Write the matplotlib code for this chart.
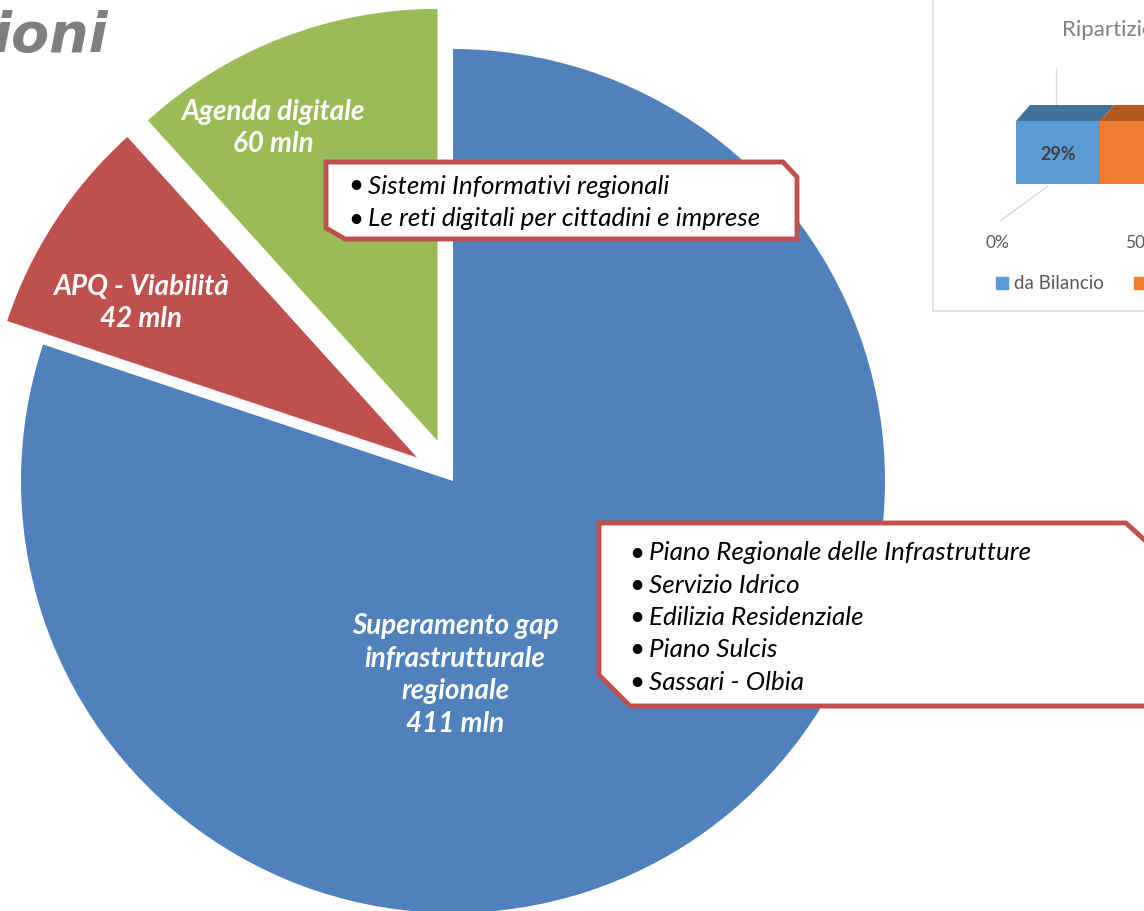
"""Riparto risorse infrastrutture: torta esplosa con riquadri di dettaglio."""

import matplotlib.pyplot as plt
from matplotlib.patches import Polygon, Rectangle

W, H = 1144, 912

# dati della torta (milioni di euro)
SLICE_NAMES = ["Superamento gap\ninfrastrutturale\nregionale", "APQ - Viabilità", "Agenda digitale"]
SLICE_VALUES = [411, 42, 60]
SLICE_COLORS = ["#4F81BD", "#C0504D", "#9BBB59"]
SLICE_EXPLODE = [0, 43, 43]

# elenchi puntati dei riquadri
AGENDA_ITEMS = ["Sistemi Informativi regionali", "Le reti digitali per cittadini e imprese"]
GAP_ITEMS = [
    "Piano Regionale delle Infrastrutture",
    "Servizio Idrico",
    "Edilizia Residenziale",
    "Piano Sulcis",
    "Sassari - Olbia",
]

# grafico inserito in alto a destra
INSET_SERIES = ["da Bilancio", "altre fonti"]
INSET_SHARES = [0.29, 0.71]
INSET_COLORS = ["#5B9BD5", "#ED7D31"]
INSET_TOPS = ["#41719C", "#B4581F"]
INSET_TICKS = [0.0, 0.5]
INSET_TICK_LABELS = ["0%", "50%"]

FONT = "Lato"


def py(y):
    """Image row (from the top) -> axes y (from the bottom)."""
    return H - y


def callout(ax, pts):
    poly = Polygon([(x, py(y)) for x, y in pts], closed=True, facecolor="white",
                   edgecolor="#C0504D", linewidth=3.5, zorder=4)
    ax.add_patch(poly)


def bullets(ax, items, x, y0, step, size):
    for i, item in enumerate(items):
        y = py(y0 + i * step)
        ax.text(x - 4, y, "\u2022", fontsize=size, family=FONT, va="center", ha="left",
                color="black", zorder=5)
        ax.text(x + 16, y, item, fontsize=size, family=FONT, style="italic",
                va="center", ha="left", color="black", zorder=5)


fig = plt.figure(figsize=(W / 100, H / 100), dpi=100)
ax = fig.add_axes([0, 0, 1, 1])
ax.pie(SLICE_VALUES, colors=SLICE_COLORS, explode=SLICE_EXPLODE, startangle=90,
       counterclock=False, center=(453, py(482)), radius=432,
       wedgeprops={"linewidth": 0})
ax.set_xlim(0, W)
ax.set_ylim(0, H)
ax.set_aspect("equal")
ax.axis("off")

# etichette delle fette
label_kw = dict(family=FONT, fontsize=20, fontweight="bold", style="italic",
                color="white", ha="center", va="center", linespacing=1.32, zorder=3)
ax.text(455, py(675), f"{SLICE_NAMES[0]}\n{SLICE_VALUES[0]} mln", **label_kw)
ax.text(141, py(303), f"{SLICE_NAMES[1]}\n{SLICE_VALUES[1]} mln", **label_kw)
ax.text(273, py(128), f"{SLICE_NAMES[2]}\n{SLICE_VALUES[2]} mln", **label_kw)

# riquadri
callout(ax, [(326, 163), (783, 163), (797, 178), (797, 240), (345, 240), (326, 229)])
bullets(ax, AGENDA_ITEMS, 352, 186, 33, 18.7)
callout(ax, [(599, 524), (1126, 524), (1150, 546), (1150, 707), (630, 707), (599, 676)])
bullets(ax, GAP_ITEMS, 633, 553, 32.3, 18.7)

# titolo tagliato
ax.text(108, py(52), "ioni", fontsize=40, fontweight="bold", style="italic",
        color="#7F7F7F", ha="right", va="baseline", family="DejaVu Sans")

# cornice del grafico inserito
ax.add_patch(Rectangle((933, py(312)), 260, 330, facecolor="white",
                       edgecolor="#D9D9D9", linewidth=1.2, zorder=2))

# grafico inserito: x in quota, y in righe immagine
left_px, right_px = 933, 1306
x0 = (left_px - 1016) / 290
axi = fig.add_axes([left_px / W, (H - 312) / H, (right_px - left_px) / W, 312 / H])
axi.set_xlim(x0, 1.0)
axi.set_ylim(312, 0)
axi.axis("off")

depth_x, depth_y = 14 / 290, -16
bar_top, bar_h = 122, 63
start = 0.0
for share, face, top in zip(INSET_SHARES, INSET_COLORS, INSET_TOPS):
    axi.barh(bar_top + bar_h / 2, share, left=start, height=bar_h, color=face,
             linewidth=0, zorder=3)
    axi.add_patch(Polygon([(start, bar_top), (start + share, bar_top),
                           (start + share + depth_x, bar_top + depth_y),
                           (start + depth_x, bar_top + depth_y)],
                          closed=True, facecolor=top, linewidth=0, zorder=3))
    start += share
axi.text(INSET_SHARES[0] / 2, 155, f"{INSET_SHARES[0]:.0%}", fontsize=13,
         fontweight="bold", color="#404040", ha="center", va="center", family=FONT, zorder=4)

for tick, lab in zip(INSET_TICKS, INSET_TICK_LABELS):
    axi.plot([tick + 40 / 290, tick + 40 / 290], [70, 106], color="#D9D9D9", lw=1, zorder=1)
    axi.plot([tick + 32 / 290, tick - 16 / 290], [187, 222], color="#D9D9D9", lw=1, zorder=1)
    axi.text(tick - 19 / 290, 243, lab, fontsize=12.5, color="#595959",
             ha="center", va="center", family=FONT)

axi.text((1062 - 1016) / 290, 30, "Ripartizione", fontsize=16,
         color="#7F7F7F", ha="left", va="center", family=FONT)

leg_x = [(1002 - 1016) / 290, (1140 - 1016) / 290]
for lx, name, col in zip(leg_x, INSET_SERIES, INSET_COLORS):
    axi.scatter([lx], [284], marker="s", s=70, color=col, zorder=3)
    axi.text(lx + 12 / 290, 284, name, fontsize=13.5, color="#595959",
             ha="left", va="center", family=FONT)

fig.savefig("out.png", dpi=100)
